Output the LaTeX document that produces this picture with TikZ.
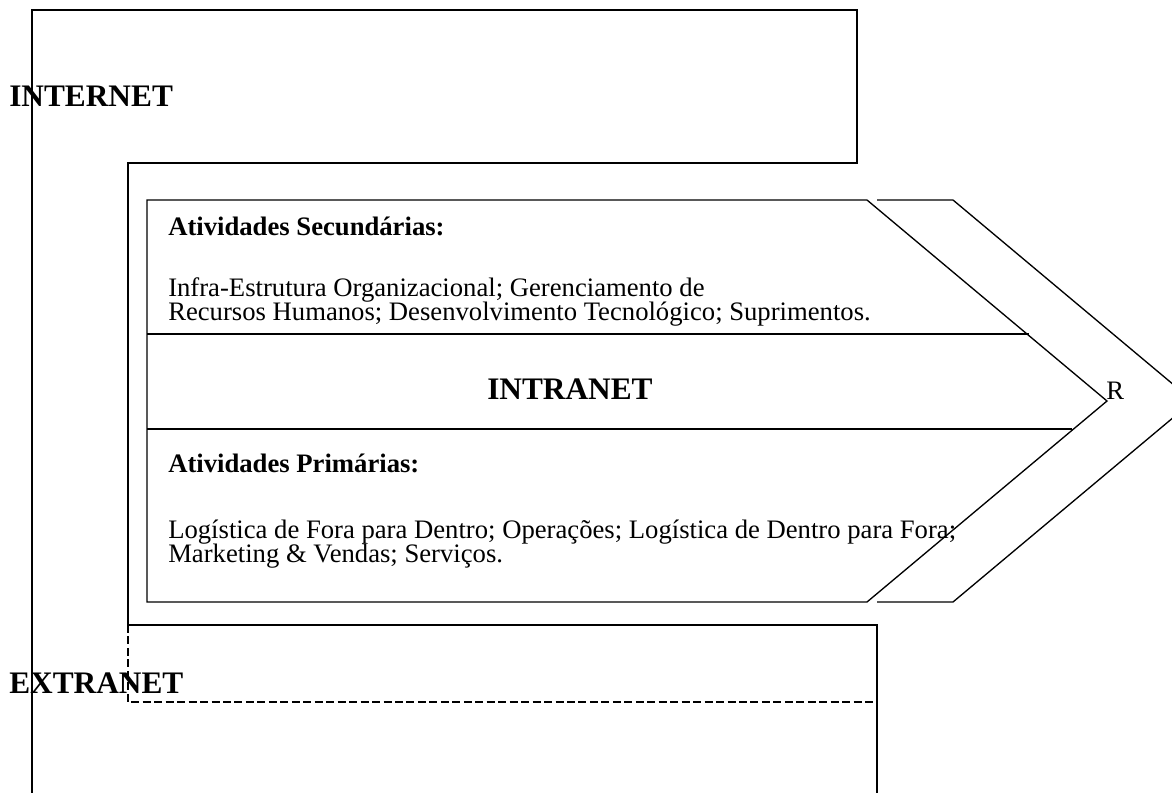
\documentclass[tikz,border=0pt]{standalone}
\usepackage{fontspec}
\setmainfont{Liberation Serif}
\begin{document}
\begin{tikzpicture}[x=0.75pt,y=-0.75pt,
  frame/.style={line width=1.3pt,line join=miter},
  chev/.style={line width=1pt,line join=miter},
  dashline/.style={line width=1.2pt,dash pattern=on 6pt off 2.6pt},
  body/.style={anchor=base west,inner sep=0pt,font=\fontsize{20}{24}\selectfont},
  head/.style={anchor=base west,inner sep=0pt,font=\fontsize{20}{24}\selectfont\bfseries},
  big/.style={anchor=base west,inner sep=0pt,font=\fontsize{23.5}{28}\selectfont\bfseries}]
\clip (0,0) rectangle (1172,793);
\fill[white] (0,0) rectangle (1172,793);
% Internet / Extranet outline
\draw[frame] (32,800) -- (32,10) -- (857,10) -- (857,163) -- (128,163) -- (128,625) -- (877,625) -- (877,800);
\draw[dashline] (128,625) -- (128,702) -- (877,702);
% value chain
\draw[chev] (147,200) -- (867,200) -- (1107,401) -- (867,602) -- (147,602) -- cycle;
\draw[chev] (147,334) -- (1029,334);
\draw[chev] (147,429) -- (1072,429);
\draw[chev] (877,200) -- (953,200) -- (1193,401) -- (953,602) -- (877,602);
% texts
\node[big] (internet) at (9,106) {INTERNET};
\node[big] (extranet) at (9,693) {EXTRANET};
\node[big] (intranet) at (487,399) {INTRANET};
\node[body] (r) at (1106,399) {R};
\node[head] (sec) at (168,235) {Atividades Secundárias:};
\node[body] (sec1) at (168,296) {Infra-Estrutura Organizacional; Gerenciamento de};
\node[body] (sec2) at (168,320) {Recursos Humanos; Desenvolvimento Tecnológico; Suprimentos.};
\node[head] (pri) at (168,472) {Atividades Primárias:};
\node[body] (pri1) at (168,538) {Logística de Fora para Dentro; Operações; Logística de Dentro para Fora;};
\node[body] (pri2) at (168,562) {Marketing \& Vendas; Serviços.};
\end{tikzpicture}
\end{document}
